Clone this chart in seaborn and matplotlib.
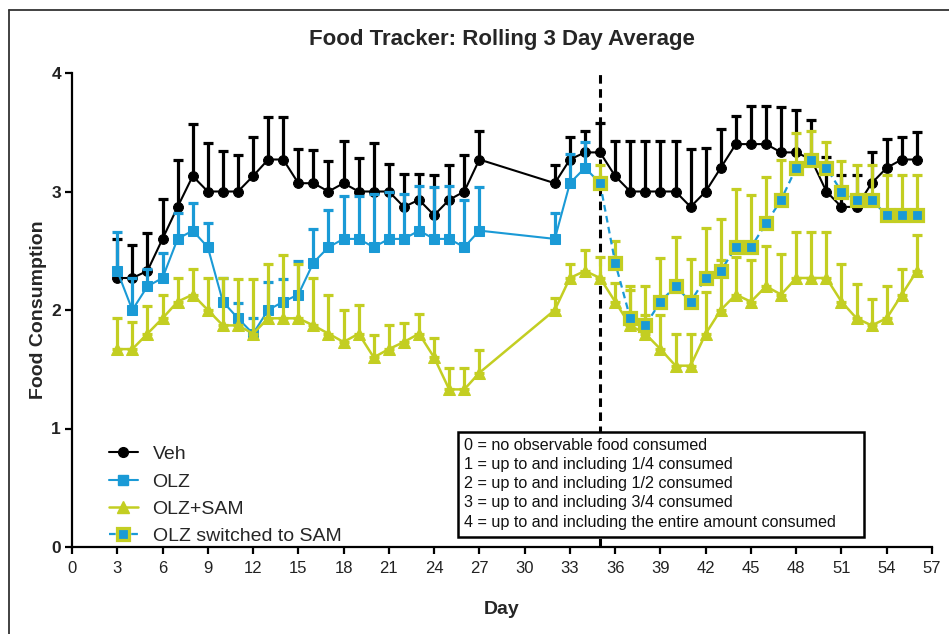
import numpy as np
import pandas as pd
import matplotlib
matplotlib.use("Agg")
import matplotlib.pyplot as plt
from matplotlib.lines import Line2D
from matplotlib.patches import Rectangle
import seaborn as sns

# ---- data: rolling 3-day mean food consumption score and upper SEM ----
days_a = list(range(3, 28)) + list(range(32, 57))

veh_mean = [2.27, 2.27, 2.33, 2.60, 2.87, 3.13, 3.00, 3.00, 3.00, 3.13, 3.27, 3.27, 3.07,
            3.07, 3.00, 3.07, 3.00, 3.00, 3.00, 2.87, 2.93, 2.80, 2.93, 3.00, 3.27,
            3.07, 3.27, 3.33, 3.33, 3.13, 3.00, 3.00, 3.00, 3.00, 2.87, 3.00, 3.20, 3.40,
            3.40, 3.40, 3.33, 3.33, 3.27, 3.00, 2.87, 2.87, 3.07, 3.20, 3.27, 3.27]
veh_sem = [0.33, 0.28, 0.32, 0.34, 0.40, 0.44, 0.41, 0.34, 0.31, 0.33, 0.36, 0.36, 0.29,
           0.28, 0.26, 0.36, 0.28, 0.41, 0.23, 0.28, 0.22, 0.34, 0.29, 0.31, 0.24,
           0.15, 0.19, 0.18, 0.25, 0.30, 0.43, 0.43, 0.43, 0.43, 0.49, 0.37, 0.33, 0.24,
           0.32, 0.32, 0.38, 0.36, 0.33, 0.29, 0.27, 0.27, 0.26, 0.24, 0.19, 0.23]

days_olz = list(range(3, 28)) + list(range(32, 36))
olz_mean = [2.33, 2.00, 2.20, 2.27, 2.60, 2.67, 2.53, 2.07, 1.93, 1.80, 2.00, 2.07, 2.13,
            2.40, 2.53, 2.60, 2.60, 2.53, 2.60, 2.60, 2.67, 2.60, 2.60, 2.53, 2.67,
            2.60, 3.07, 3.20, 3.07]
olz_sem = [0.33, 0.27, 0.15, 0.21, 0.22, 0.23, 0.20, 0.20, 0.13, 0.13, 0.24, 0.19, 0.28,
           0.28, 0.31, 0.36, 0.36, 0.45, 0.40, 0.38, 0.38, 0.44, 0.45, 0.40, 0.37,
           0.22, 0.25, 0.22, 0.15]

sam_mean = [1.67, 1.67, 1.80, 1.93, 2.07, 2.13, 2.00, 1.87, 1.87, 1.80, 1.93, 1.93, 1.93,
            1.87, 1.80, 1.73, 1.80, 1.60, 1.67, 1.73, 1.80, 1.60, 1.33, 1.33, 1.47,
            2.00, 2.27, 2.33, 2.27, 2.07, 1.87, 1.80, 1.67, 1.53, 1.53, 1.80, 2.00, 2.13,
            2.07, 2.20, 2.13, 2.27, 2.27, 2.27, 2.07, 1.93, 1.87, 1.93, 2.13, 2.33]
sam_sem = [0.26, 0.23, 0.23, 0.20, 0.20, 0.22, 0.27, 0.40, 0.39, 0.46, 0.46, 0.53, 0.46,
           0.40, 0.33, 0.27, 0.24, 0.19, 0.20, 0.16, 0.17, 0.16, 0.18, 0.18, 0.19,
           0.10, 0.12, 0.18, 0.18, 0.16, 0.30, 0.16, 0.29, 0.27, 0.27, 0.35, 0.42, 0.32,
           0.35, 0.34, 0.34, 0.39, 0.39, 0.39, 0.32, 0.29, 0.22, 0.27, 0.22, 0.30]

days_sw = list(range(35, 57))
sw_mean = [3.07, 2.40, 1.93, 1.87, 2.07, 2.20, 2.07, 2.27, 2.33, 2.53, 2.53, 2.73, 2.93,
           3.20, 3.27, 3.20, 3.00, 2.93, 2.93, 2.80, 2.80, 2.80]
sw_sem = [0.15, 0.18, 0.27, 0.33, 0.37, 0.42, 0.36, 0.42, 0.44, 0.49, 0.44, 0.39, 0.34,
          0.29, 0.24, 0.22, 0.26, 0.29, 0.29, 0.34, 0.34, 0.34]

x_ticks = list(range(0, 58, 3))
y_ticks = [0, 1, 2, 3, 4]
switch_day = 35
key_lines = ["0 = no observable food consumed",
             "1 = up to and including 1/4 consumed",
             "2 = up to and including 1/2 consumed",
             "3 = up to and including 3/4 consumed",
             "4 = up to and including the entire amount consumed"]

BLACK = "#000000"
BLUE = "#1A9AD6"
LIME = "#C3CE22"

sns.set_theme(style="ticks")
plt.rcParams["font.family"] = ["Liberation Sans", "DejaVu Sans"]

fig = plt.figure(figsize=(9.49, 6.34), dpi=100)
ax = fig.add_axes([72 / 949, 87 / 634, 860 / 949, 474 / 634])

df_veh = pd.DataFrame({"day": days_a, "mean": veh_mean, "sem": veh_sem})
df_olz = pd.DataFrame({"day": days_olz, "mean": olz_mean, "sem": olz_sem})
df_sam = pd.DataFrame({"day": days_a, "mean": sam_mean, "sem": sam_sem})
df_sw = pd.DataFrame({"day": days_sw, "mean": sw_mean, "sem": sw_sem})

ax.axvline(switch_day, color=BLACK, lw=2.2, ls=(0, (2.8, 1.8)), zorder=1)


def upper_bars(df, color, z):
    ax.errorbar(df["day"], df["mean"], yerr=[np.zeros(len(df)), df["sem"]],
                fmt="none", ecolor=color, elinewidth=2.3, capsize=3.9,
                capthick=2.3, zorder=z)


# vehicle
upper_bars(df_veh, BLACK, 2)
sns.lineplot(data=df_veh, x="day", y="mean", ax=ax, color=BLACK, lw=1.5,
             marker="o", markersize=7, markeredgecolor=BLACK, estimator=None,
             zorder=3)
# olanzapine
upper_bars(df_olz.iloc[:-1], BLUE, 4)
sns.lineplot(data=df_olz, x="day", y="mean", ax=ax, color=BLUE, lw=1.5,
             marker="s", markersize=7, markeredgecolor=BLUE, estimator=None,
             zorder=5)
# olanzapine + samidorphan
upper_bars(df_sam, LIME, 6)
sns.lineplot(data=df_sam, x="day", y="mean", ax=ax, color=LIME, lw=1.8,
             marker="^", markersize=8, markeredgecolor=LIME, estimator=None,
             zorder=7)
# olanzapine switched to samidorphan
upper_bars(df_sw, LIME, 8)
sns.lineplot(data=df_sw, x="day", y="mean", ax=ax, color=BLUE, lw=1.6,
             linestyle=(0, (3, 2)), marker="s", markersize=8.5,
             markerfacecolor=BLUE, markeredgecolor=LIME, markeredgewidth=2.3,
             estimator=None, zorder=9)

ax.set_xlim(0, 57)
ax.set_ylim(0, 4)
ax.set_xticks(x_ticks)
ax.set_yticks(y_ticks)
ax.set_xticklabels([str(t) for t in x_ticks], fontsize=12)
ax.set_yticklabels([str(t) for t in y_ticks], fontsize=12.5, fontweight="bold")
sns.despine(ax=ax)
for side in ("left", "bottom"):
    ax.spines[side].set_linewidth(1.6)
    ax.spines[side].set_color(BLACK)
ax.tick_params(axis="both", direction="out", length=5, width=1.6,
               color=BLACK, labelcolor="#222222")
ax.tick_params(axis="x", pad=5)
ax.tick_params(axis="y", pad=3)
ax.grid(False)

ax.set_xlabel("Day", fontsize=14, fontweight="bold")
ax.xaxis.set_label_coords(0.5, -0.113)
ax.set_ylabel("Food Consumption", fontsize=14, fontweight="bold")
ax.yaxis.set_label_coords(-0.029, 0.5)
fig.text(502 / 949, 1 - 39 / 634, "Food Tracker: Rolling 3 Day Average",
         ha="center", va="center", fontsize=16, fontweight="bold")

handles = [
    Line2D([], [], color=BLACK, lw=1.5, marker="o", markersize=7),
    Line2D([], [], color=BLUE, lw=1.5, marker="s", markersize=7),
    Line2D([], [], color=LIME, lw=1.8, marker="^", markersize=8),
    Line2D([], [], color=BLUE, lw=1.6, ls=(0, (3, 2)), marker="s",
           markersize=8.5, markerfacecolor=BLUE, markeredgecolor=LIME,
           markeredgewidth=2.3),
]
labels = ["Veh", "OLZ", "OLZ+SAM", "OLZ switched to SAM"]
ax.legend(handles, labels, loc="lower left", bbox_to_anchor=(0.027, -0.025),
          frameon=False, fontsize=14, handlelength=1.5, handletextpad=0.75,
          labelspacing=0.5, borderpad=0.2)

# scoring key
ax.add_patch(Rectangle((0.449, 0.021), 0.472, 0.222, transform=ax.transAxes,
                       facecolor="white", edgecolor=BLACK, lw=1.8, zorder=10))
ax.text(0.4555, 0.231, "\n".join(key_lines), transform=ax.transAxes,
        ha="left", va="top", fontsize=11.6, linespacing=1.36, color="#111111",
        zorder=11)

# outer frame
fig.add_artist(Line2D([8.5 / 949, 8.5 / 949], [0, 1 - 10 / 634],
                      transform=fig.transFigure, color="#333333", lw=1.3))
fig.add_artist(Line2D([8.5 / 949, 1], [1 - 10 / 634, 1 - 10 / 634],
                      transform=fig.transFigure, color="#333333", lw=1.3))

fig.savefig("out.png", dpi=100)
